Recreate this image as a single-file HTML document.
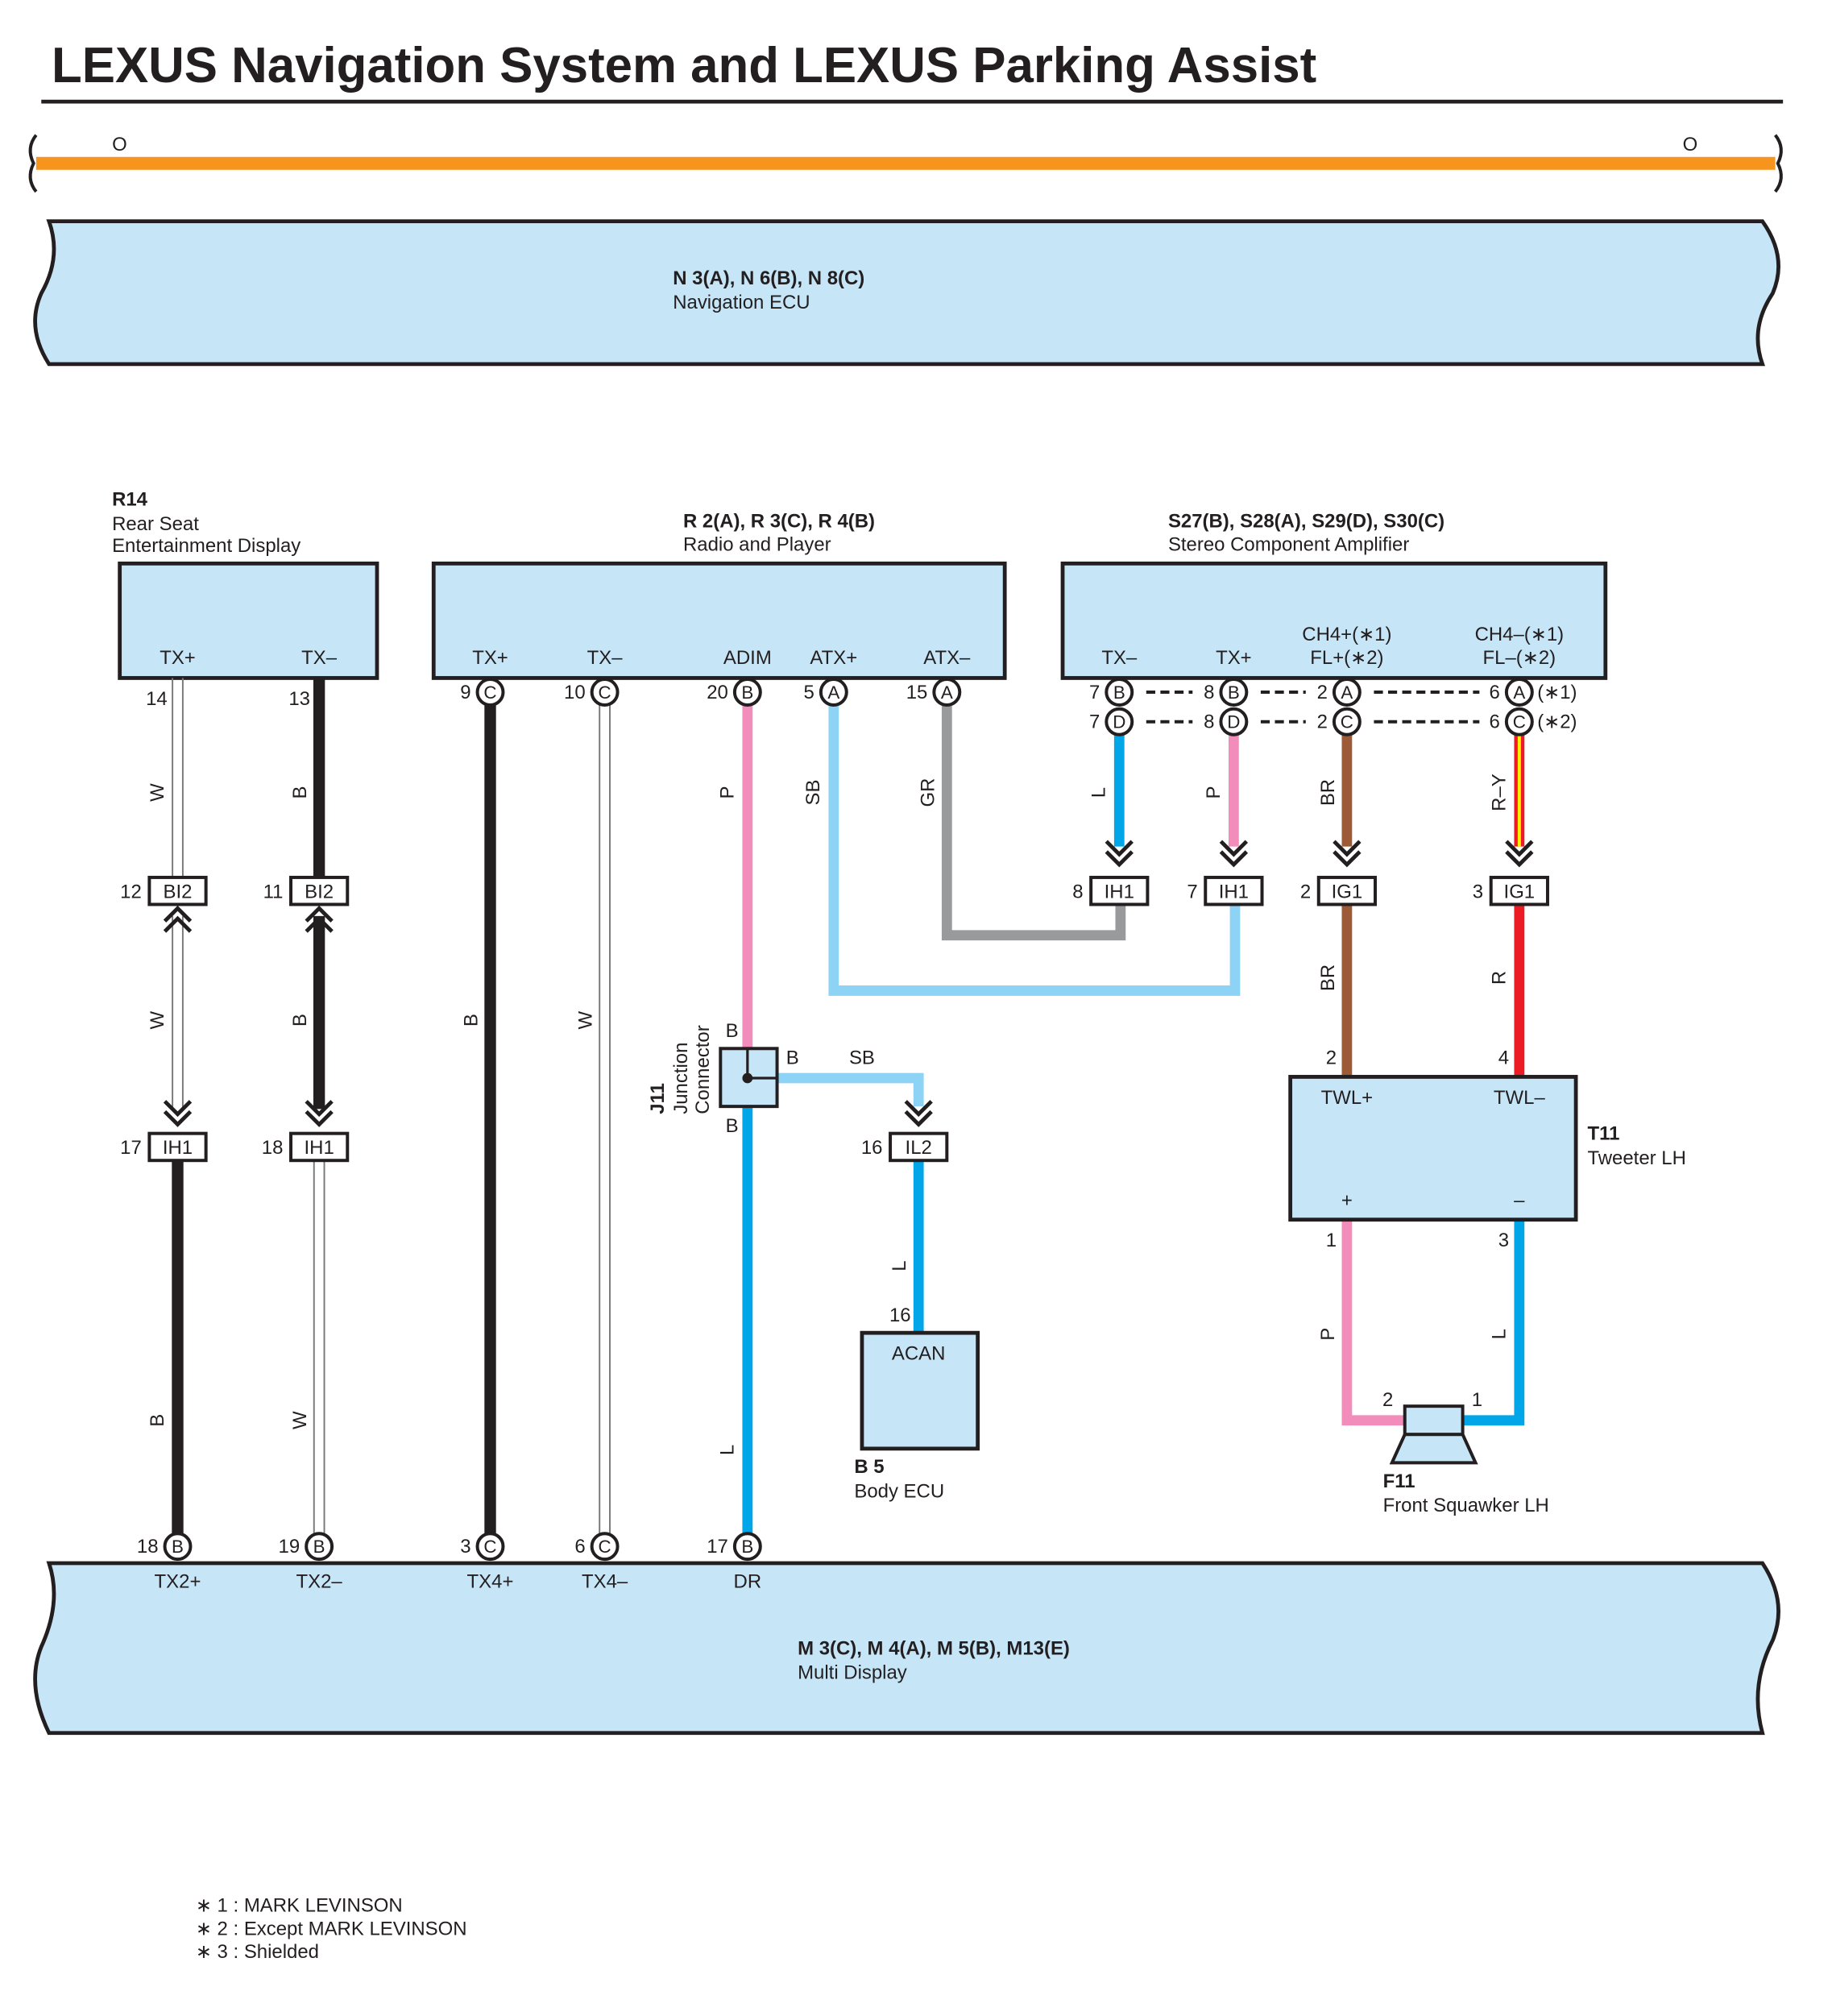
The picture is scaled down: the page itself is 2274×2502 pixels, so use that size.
<!DOCTYPE html>
<html><head><meta charset="utf-8"><style>
html,body{margin:0;padding:0;background:#fff}
svg{display:block}
text{font-family:"Liberation Sans",Arial,sans-serif;fill:#231f20}
</style></head><body>
<svg width="2274" height="2502" viewBox="0 0 1424 1567" xmlns="http://www.w3.org/2000/svg">
<defs>
<g id="chev"><polyline points="-10,-10 0,0 10,-10" fill="none" stroke="#231f20" stroke-width="3"/><polyline points="-10,-2 0,8 10,-2" fill="none" stroke="#231f20" stroke-width="3"/></g>
<g id="chevu"><polyline points="-10,10 0,0 10,10" fill="none" stroke="#231f20" stroke-width="3"/><polyline points="-10,2 0,-8 10,2" fill="none" stroke="#231f20" stroke-width="3"/></g>
</defs>
<text x="40" y="64" font-size="38.7" font-weight="bold">LEXUS Navigation System and LEXUS Parking Assist</text>
<line x1="32" y1="79" x2="1386" y2="79" stroke="#231f20" stroke-width="3"/>
<line x1="28" y1="127" x2="1380" y2="127" stroke="#f7941d" stroke-width="10"/>
<path d="M28,105 Q20,115 26,127 Q20,139 28,149" fill="none" stroke="#231f20" stroke-width="2.5"/>
<path d="M1380,105 Q1388,115 1382,127 Q1388,139 1380,149" fill="none" stroke="#231f20" stroke-width="2.5"/>
<text x="87" y="117" font-size="15">O</text><text x="1308" y="117" font-size="15">O</text>

<path d="M38,172 L1370,172 Q1390,200 1378,228 Q1360,255 1370,283 L38,283 Q20,255 32,228 Q48,200 38,172 Z" fill="#c6e6f8" stroke="#231f20" stroke-width="3"/>
<text x="523" y="221" font-size="15" font-weight="bold">N 3(A), N 6(B), N 8(C)</text>
<text x="523" y="240" font-size="15">Navigation ECU</text>

<path d="M38,1215 L1370,1215 Q1390,1245 1378,1275 Q1360,1310 1370,1347 L38,1347 Q20,1310 32,1280 Q48,1245 38,1215 Z" fill="#c6e6f8" stroke="#231f20" stroke-width="3"/>
<text x="620" y="1286" font-size="15" font-weight="bold">M 3(C), M 4(A), M 5(B), M13(E)</text>
<text x="620" y="1305" font-size="15">Multi Display</text>

<rect x="93" y="438" width="200" height="89" fill="#c6e6f8" stroke="#231f20" stroke-width="3"/>
<rect x="337" y="438" width="444" height="89" fill="#c6e6f8" stroke="#231f20" stroke-width="3"/>
<rect x="826" y="438" width="422" height="89" fill="#c6e6f8" stroke="#231f20" stroke-width="3"/>
<text x="87" y="393" font-size="15" font-weight="bold">R14</text>
<text x="87" y="412" font-size="15">Rear Seat</text>
<text x="87" y="429" font-size="15">Entertainment Display</text>
<text x="531" y="410" font-size="15" font-weight="bold">R 2(A), R 3(C), R 4(B)</text>
<text x="531" y="428" font-size="15">Radio and Player</text>
<text x="908" y="410" font-size="15" font-weight="bold">S27(B), S28(A), S29(D), S30(C)</text>
<text x="908" y="428" font-size="15">Stereo Component Amplifier</text>
<g font-size="15" text-anchor="middle">
<text x="138" y="516">TX+</text><text x="248" y="516">TX–</text>
<text x="381" y="516">TX+</text><text x="470" y="516">TX–</text><text x="581" y="516">ADIM</text><text x="648" y="516">ATX+</text><text x="736" y="516">ATX–</text>
<text x="870" y="516">TX–</text><text x="959" y="516">TX+</text>
<text x="1047" y="498">CH4+(∗1)</text><text x="1047" y="516">FL+(∗2)</text>
<text x="1181" y="498">CH4–(∗1)</text><text x="1181" y="516">FL–(∗2)</text>
</g>

<g fill="none">
<path d="M134,527V683M142,527V683" stroke="#777" stroke-width="1.2"/>
<path d="M134,712V862M142,712V862" stroke="#777" stroke-width="1.2"/>
<line x1="138" y1="902" x2="138" y2="1192" stroke="#231f20" stroke-width="9"/>
<line x1="248" y1="527" x2="248" y2="683" stroke="#231f20" stroke-width="9"/>
<line x1="248" y1="712" x2="248" y2="862" stroke="#231f20" stroke-width="9"/>
<path d="M244,902V1192M252,902V1192" stroke="#777" stroke-width="1.2"/>
<line x1="381" y1="548" x2="381" y2="1192" stroke="#231f20" stroke-width="9"/>
<path d="M466,548V1192M474,548V1192" stroke="#777" stroke-width="1.2"/>
<line x1="581" y1="548" x2="581" y2="815" stroke="#f18cbb" stroke-width="8"/>
<line x1="581" y1="860" x2="581" y2="1192" stroke="#00a6e8" stroke-width="8"/>
<path d="M604,838H714V860" stroke="#8dd3f5" stroke-width="8"/>
<line x1="714" y1="902" x2="714" y2="1036" stroke="#00a6e8" stroke-width="8"/>
<path d="M648,548V770H960V702" stroke="#8dd3f5" stroke-width="8"/>
<path d="M736,548V727H871V702" stroke="#999a9c" stroke-width="8"/>
<line x1="870" y1="570" x2="870" y2="658" stroke="#00a6e8" stroke-width="8"/>
<line x1="959" y1="570" x2="959" y2="658" stroke="#f18cbb" stroke-width="8"/>
<line x1="1047" y1="570" x2="1047" y2="658" stroke="#9c5a36" stroke-width="8"/>
<line x1="1047" y1="702" x2="1047" y2="837" stroke="#9c5a36" stroke-width="8"/>
<line x1="1181" y1="570" x2="1181" y2="658" stroke="#ed1c24" stroke-width="8"/>
<line x1="1181" y1="570" x2="1181" y2="658" stroke="#fff200" stroke-width="2.5"/>
<line x1="1181" y1="702" x2="1181" y2="837" stroke="#ed1c24" stroke-width="8"/>
<path d="M1047,948V1104H1092" stroke="#f18cbb" stroke-width="8"/>
<path d="M1181,948V1104H1137" stroke="#00a6e8" stroke-width="8"/>
</g>

<g stroke="#231f20" stroke-width="2.5" stroke-dasharray="7,4">
<line x1="891" y1="538" x2="927" y2="538"/><line x1="980" y1="538" x2="1015" y2="538"/><line x1="1068" y1="538" x2="1150" y2="538"/>
<line x1="891" y1="561" x2="927" y2="561"/><line x1="980" y1="561" x2="1015" y2="561"/><line x1="1068" y1="561" x2="1150" y2="561"/>
</g>

<use href="#chevu" x="138" y="714"/><use href="#chevu" x="248" y="714"/>
<use href="#chev" x="138" y="866"/><use href="#chev" x="248" y="866"/>
<use href="#chev" x="714" y="866"/>
<use href="#chev" x="870" y="664"/><use href="#chev" x="959" y="664"/><use href="#chev" x="1047" y="664"/><use href="#chev" x="1181" y="664"/>

<g fill="#fff" stroke="#231f20" stroke-width="2.5">
<rect x="116" y="682" width="44" height="21"/><rect x="226" y="682" width="44" height="21"/>
<rect x="116" y="881" width="44" height="21"/><rect x="226" y="881" width="44" height="21"/>
<rect x="692" y="881" width="44" height="21"/>
<rect x="848" y="682" width="44" height="21"/><rect x="937" y="682" width="44" height="21"/>
<rect x="1025" y="682" width="44" height="21"/><rect x="1159" y="682" width="44" height="21"/>
</g>
<g font-size="15" text-anchor="middle">
<text x="138" y="698">BI2</text><text x="248" y="698">BI2</text>
<text x="138" y="897">IH1</text><text x="248" y="897">IH1</text><text x="714" y="897">IL2</text>
<text x="870" y="698">IH1</text><text x="959" y="698">IH1</text><text x="1047" y="698">IG1</text><text x="1181" y="698">IG1</text>
</g>
<g font-size="15" text-anchor="end">
<text x="110" y="698">12</text><text x="220" y="698">11</text>
<text x="110" y="897">17</text><text x="220" y="897">18</text><text x="686" y="897">16</text>
<text x="842" y="698">8</text><text x="931" y="698">7</text><text x="1019" y="698">2</text><text x="1153" y="698">3</text>
<text x="130" y="548">14</text><text x="241" y="548">13</text>
</g>

<g fill="#fff" stroke="#231f20" stroke-width="2.5">
<circle cx="381" cy="538" r="10"/><circle cx="470" cy="538" r="10"/><circle cx="581" cy="538" r="10"/><circle cx="648" cy="538" r="10"/><circle cx="736" cy="538" r="10"/>
<circle cx="870" cy="538" r="10"/><circle cx="959" cy="538" r="10"/><circle cx="1047" cy="538" r="10"/><circle cx="1181" cy="538" r="10"/>
<circle cx="870" cy="561" r="10"/><circle cx="959" cy="561" r="10"/><circle cx="1047" cy="561" r="10"/><circle cx="1181" cy="561" r="10"/>
<circle cx="138" cy="1202" r="10"/><circle cx="248" cy="1202" r="10"/><circle cx="381" cy="1202" r="10"/><circle cx="470" cy="1202" r="10"/><circle cx="581" cy="1202" r="10"/>
</g>
<g font-size="14" text-anchor="middle">
<text x="381" y="543">C</text><text x="470" y="543">C</text><text x="581" y="543">B</text><text x="648" y="543">A</text><text x="736" y="543">A</text>
<text x="870" y="543">B</text><text x="959" y="543">B</text><text x="1047" y="543">A</text><text x="1181" y="543">A</text>
<text x="870" y="566">D</text><text x="959" y="566">D</text><text x="1047" y="566">C</text><text x="1181" y="566">C</text>
<text x="138" y="1207">B</text><text x="248" y="1207">B</text><text x="381" y="1207">C</text><text x="470" y="1207">C</text><text x="581" y="1207">B</text>
</g>
<g font-size="15" text-anchor="end">
<text x="366" y="543">9</text><text x="455" y="543">10</text><text x="566" y="543">20</text><text x="633" y="543">5</text><text x="721" y="543">15</text>
<text x="855" y="543">7</text><text x="944" y="543">8</text><text x="1032" y="543">2</text><text x="1166" y="543">6</text>
<text x="855" y="566">7</text><text x="944" y="566">8</text><text x="1032" y="566">2</text><text x="1166" y="566">6</text>
<text x="123" y="1207">18</text><text x="233" y="1207">19</text><text x="366" y="1207">3</text><text x="455" y="1207">6</text><text x="566" y="1207">17</text>
</g>
<text x="1195" y="543" font-size="15">(∗1)</text><text x="1195" y="566" font-size="15">(∗2)</text>
<g font-size="15" text-anchor="middle">
<text x="138" y="1234">TX2+</text><text x="248" y="1234">TX2–</text><text x="381" y="1234">TX4+</text><text x="470" y="1234">TX4–</text><text x="581" y="1234">DR</text>
</g>

<g font-size="15" text-anchor="middle">
<text transform="translate(127,616) rotate(-90)">W</text>
<text transform="translate(238,616) rotate(-90)">B</text>
<text transform="translate(127,793) rotate(-90)">W</text>
<text transform="translate(238,793) rotate(-90)">B</text>
<text transform="translate(127,1104) rotate(-90)">B</text>
<text transform="translate(238,1104) rotate(-90)">W</text>
<text transform="translate(371,793) rotate(-90)">B</text>
<text transform="translate(460,793) rotate(-90)">W</text>
<text transform="translate(570,616) rotate(-90)">P</text>
<text transform="translate(570,1127) rotate(-90)">L</text>
<text transform="translate(637,616) rotate(-90)">SB</text>
<text transform="translate(726,616) rotate(-90)">GR</text>
<text transform="translate(859,616) rotate(-90)">L</text>
<text transform="translate(948,616) rotate(-90)">P</text>
<text transform="translate(1037,616) rotate(-90)">BR</text>
<text transform="translate(1170,616) rotate(-90)">R–Y</text>
<text transform="translate(1037,760) rotate(-90)">BR</text>
<text transform="translate(1170,760) rotate(-90)">R</text>
<text transform="translate(704,984) rotate(-90)">L</text>
<text transform="translate(1037,1037) rotate(-90)">P</text>
<text transform="translate(1170,1037) rotate(-90)">L</text>
</g>

<rect x="560" y="815" width="44" height="45" fill="#c6e6f8" stroke="#231f20" stroke-width="2.5"/>
<path d="M581,815V838H604" fill="none" stroke="#231f20" stroke-width="2"/>
<circle cx="581" cy="838" r="4" fill="#231f20"/>
<text x="564" y="806" font-size="15">B</text><text x="564" y="880" font-size="15">B</text><text x="611" y="827" font-size="15">B</text><text x="660" y="827" font-size="15">SB</text>
<text transform="translate(516,866) rotate(-90)" font-size="15" font-weight="bold">J11</text>
<text transform="translate(534,866) rotate(-90)" font-size="15">Junction</text>
<text transform="translate(551,866) rotate(-90)" font-size="15">Connector</text>

<rect x="670" y="1036" width="90" height="90" fill="#c6e6f8" stroke="#231f20" stroke-width="3"/>
<text x="714" y="1057" font-size="15" text-anchor="middle">ACAN</text>
<text x="708" y="1027" font-size="15" text-anchor="end">16</text>
<text x="664" y="1145" font-size="15" font-weight="bold">B 5</text>
<text x="664" y="1164" font-size="15">Body ECU</text>

<rect x="1003" y="837" width="222" height="111" fill="#c6e6f8" stroke="#231f20" stroke-width="3"/>
<text x="1047" y="858" font-size="15" text-anchor="middle">TWL+</text>
<text x="1181" y="858" font-size="15" text-anchor="middle">TWL–</text>
<text x="1047" y="938" font-size="15" text-anchor="middle">+</text>
<text x="1181" y="938" font-size="15" text-anchor="middle">–</text>
<text x="1039" y="827" font-size="15" text-anchor="end">2</text>
<text x="1173" y="827" font-size="15" text-anchor="end">4</text>
<text x="1039" y="969" font-size="15" text-anchor="end">1</text>
<text x="1173" y="969" font-size="15" text-anchor="end">3</text>
<text x="1234" y="886" font-size="15" font-weight="bold">T11</text>
<text x="1234" y="905" font-size="15">Tweeter LH</text>

<rect x="1092" y="1093" width="45" height="22" fill="#c6e6f8" stroke="#231f20" stroke-width="2.5"/>
<polygon points="1092,1115 1137,1115 1147,1137 1082,1137" fill="#c6e6f8" stroke="#231f20" stroke-width="2.5"/>
<text x="1083" y="1093" font-size="15" text-anchor="end">2</text>
<text x="1144" y="1093" font-size="15">1</text>
<text x="1075" y="1156" font-size="15" font-weight="bold">F11</text>
<text x="1075" y="1175" font-size="15">Front Squawker LH</text>

<text x="152" y="1486" font-size="15">∗ 1 : MARK LEVINSON</text>
<text x="152" y="1504" font-size="15">∗ 2 : Except MARK LEVINSON</text>
<text x="152" y="1522" font-size="15">∗ 3 : Shielded</text>
</svg>
</body></html>
